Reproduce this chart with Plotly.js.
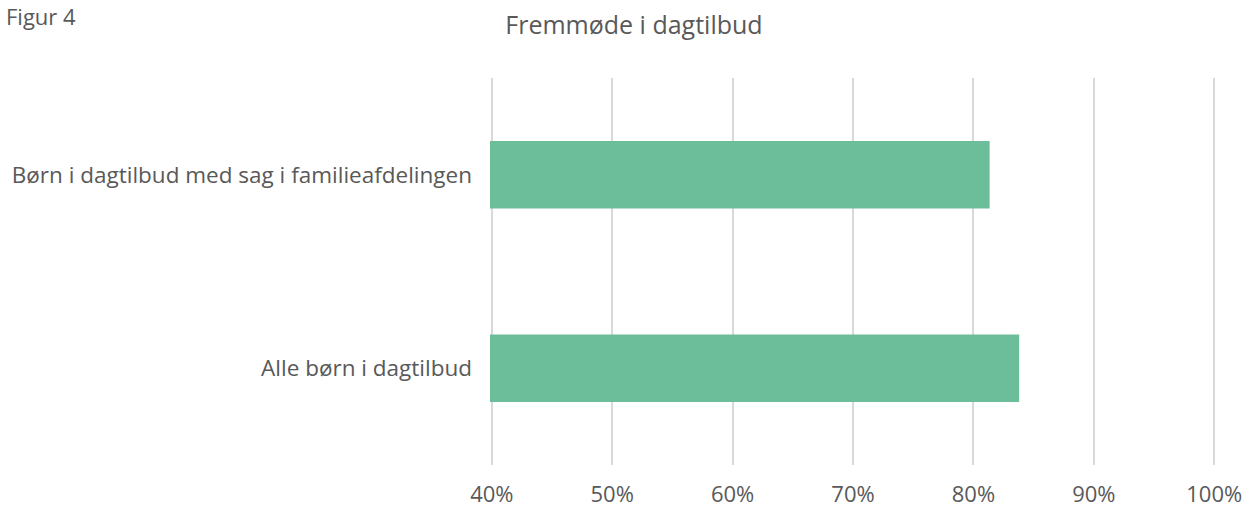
<!DOCTYPE html>
<html><head><meta charset="utf-8">
<script src="https://cdn.plot.ly/plotly-3.0.1.min.js"></script>
<style>html,body{margin:0;padding:0;background:#fff}#chart{width:1248px;height:508px}</style>
</head><body><div id="chart"></div>
<script>
const categories = ["Alle børn i dagtilbud", "Børn i dagtilbud med sag i familieafdelingen"];
const values = [0.838, 0.8135];
const tickVals = [0.4, 0.5, 0.6, 0.7, 0.8, 0.9, 1.0];
const tickText = ["40%", "50%", "60%", "70%", "80%", "90%", "100%"];
const chartTitle = "Fremmøde i dagtilbud";
const figureLabel = "Figur 4";

const font = "Open Sans, Noto Sans, sans-serif";
Plotly.newPlot("chart", [{
  type: "bar", orientation: "h",
  y: categories, x: values,
  base: 0,
  marker: {color: "#6cbe9b"},
  hoverinfo: "x+y"
}], {
  width: 1248, height: 508,
  margin: {l: 490, r: 32, t: 78, b: 43},
  paper_bgcolor: "#fff", plot_bgcolor: "#fff",
  bargap: 0.65,
  showlegend: false,
  font: {family: font, color: "#595959", size: 22},
  title: {text: chartTitle, x: 0.508, xanchor: "center", y: 0.95, yanchor: "middle",
          font: {family: font, size: 25, color: "#595959"}},
  xaxis: {range: [0.3985, 1.0015], tickvals: tickVals, ticktext: tickText,
          showgrid: true, gridcolor: "#d9d9d9", gridwidth: 1.5,
          zeroline: false, showline: false, ticks: "", ticklabelstandoff: 14,
          tickfont: {size: 22, color: "#595959"}, fixedrange: true},
  yaxis: {showgrid: false, zeroline: false, showline: false, ticks: "",
          ticklabelstandoff: 17, tickfont: {size: 22.5, color: "#595959"}, fixedrange: true},
  annotations: [{text: figureLabel, xref: "paper", yref: "paper", x: -486/726, y: 1.16,
                 xanchor: "left", yanchor: "middle", showarrow: false,
                 font: {family: font, size: 22, color: "#595959"}}]
}, {displayModeBar: false});
</script></body></html>
